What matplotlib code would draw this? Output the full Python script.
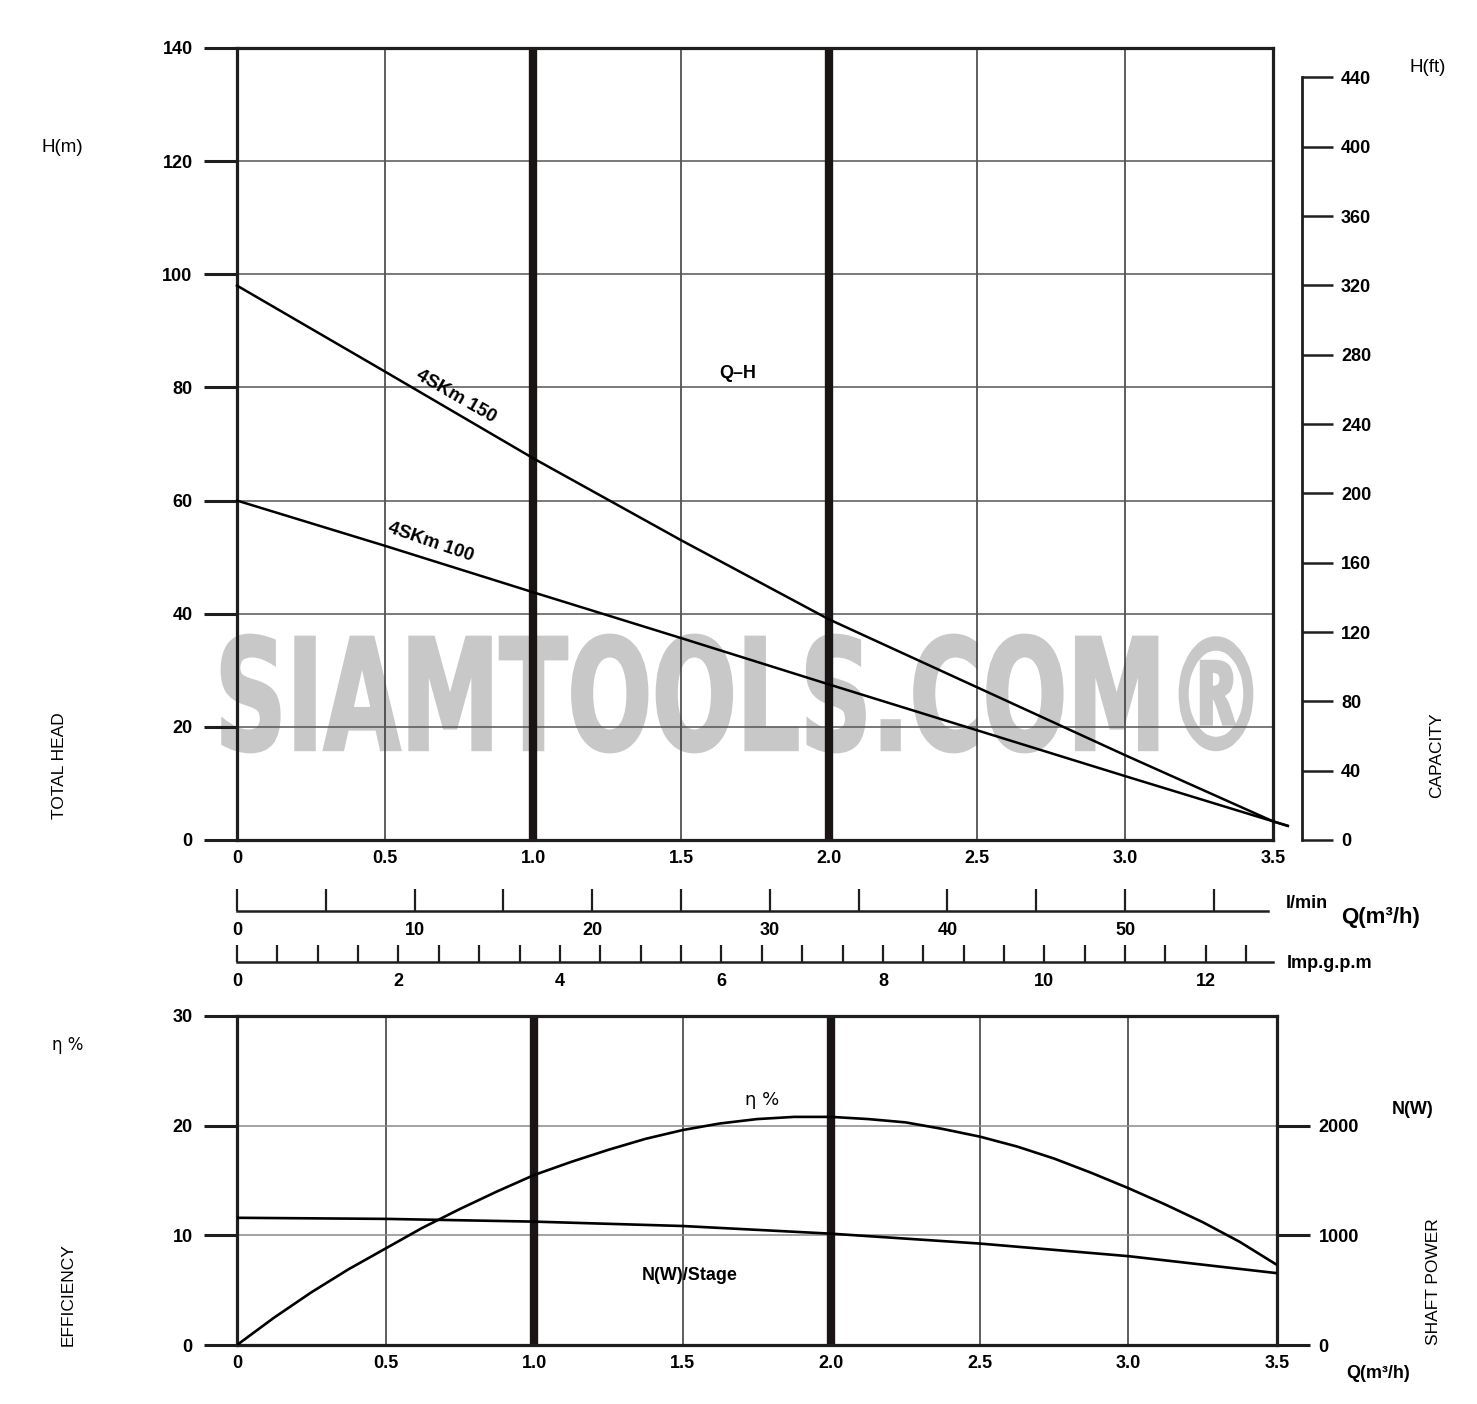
import matplotlib
matplotlib.use('Agg')
import matplotlib.pyplot as plt
import numpy as np
from matplotlib.textpath import TextPath
from matplotlib.patches import PathPatch
from matplotlib.font_manager import FontProperties
from matplotlib.transforms import Affine2D

plt.rcParams['font.family'] = ['Liberation Sans', 'DejaVu Sans']

# ---------------- data ----------------
q_head = [0, 0.5, 1.0, 1.5, 2.0, 2.5, 3.0, 3.5, 3.55]
h_150 = [98, 82.8, 67.5, 53, 39, 27, 15, 3.3, 2.5]
h_100 = [60, 52, 43.8, 35.7, 27.5, 19.4, 11.3, 3.3, 2.5]

q_eta = [0, 0.125, 0.25, 0.375, 0.5, 0.625, 0.75, 0.875, 1.0, 1.125, 1.25, 1.375,
         1.5, 1.625, 1.75, 1.875, 2.0, 2.125, 2.25, 2.375, 2.5, 2.625, 2.75, 2.875,
         3.0, 3.125, 3.25, 3.375, 3.5]
eta = [0, 2.5, 4.8, 6.9, 8.8, 10.7, 12.4, 14.0, 15.5, 16.7, 17.8, 18.8,
       19.6, 20.2, 20.6, 20.8, 20.8, 20.6, 20.3, 19.7, 19.0, 18.1, 17.0, 15.7,
       14.3, 12.8, 11.2, 9.4, 7.3]

q_pow = [0, 0.5, 1.0, 1.5, 2.0, 2.5, 3.0, 3.5]
power_w = [1160, 1150, 1125, 1085, 1015, 925, 810, 655]

q_ticks = [0, 0.5, 1.0, 1.5, 2.0, 2.5, 3.0, 3.5]
q_labels = ['0', '0.5', '1.0', '1.5', '2.0', '2.5', '3.0', '3.5']
h_m_ticks = [0, 20, 40, 60, 80, 100, 120, 140]
h_ft_ticks = [0, 40, 80, 120, 160, 200, 240, 280, 320, 360, 400, 440]
eta_ticks = [0, 10, 20, 30]
pow_ticks = [0, 1000, 2000]
lmin_ticks = list(range(0, 56, 5))
lmin_labels = [str(v) if v % 10 == 0 else '' for v in lmin_ticks]
gpm_ticks = [v * 0.5 for v in range(0, 26)]
gpm_labels = [str(int(v)) if v % 2 == 0 else '' for v in gpm_ticks]
thick_q = [1.0, 2.0]

LMIN_PER_M3H = 1000 / 60.0
GPM_PER_M3H = 1000 / 60.0 / 4.54609
FT_PER_M = 3.28084

# ---------------- figure ----------------
W, H = 1477, 1404
fig = plt.figure(figsize=(W / 100, H / 100), dpi=100)
fig.patch.set_facecolor('white')


def rect(x0, y0, x1, y1):
    return [x0 / W, 1 - y1 / H, (x1 - x0) / W, (y1 - y0) / H]


def ftext(x, y, s, **kw):
    kw.setdefault('ha', 'center')
    kw.setdefault('va', 'center')
    return fig.text(x / W, 1 - y / H, s, **kw)


FRAME = '#1e1e1e'
NUMSIZE = 13
LBL = 13


def style_main(a, grid_h_color):
    a.patch.set_alpha(0)
    for s in a.spines.values():
        s.set_linewidth(2.3)
        s.set_color(FRAME)
    a.set_xticks(q_ticks)
    a.set_xticklabels(q_labels, fontsize=NUMSIZE, fontweight='bold')
    a.tick_params(axis='x', length=0, pad=7)
    a.tick_params(axis='y', direction='out', length=24, width=2.2, color=FRAME,
                  pad=8, labelsize=NUMSIZE)
    for lab in a.get_yticklabels():
        lab.set_fontweight('bold')
    a.xaxis.grid(True, color='#333333', lw=1.1)
    a.yaxis.grid(True, color=grid_h_color, lw=1.1)
    a.set_axisbelow(True)
    for qv in thick_q:
        a.axvline(qv, color='#1a1414', lw=6.0, zorder=1.5)


# ---- top: Q-H ----
ax = fig.add_axes(rect(237, 48, 1273, 840))
ax.set_xlim(0, 3.5)
ax.set_ylim(0, 140)
ax.set_yticks(h_m_ticks)
ax.set_yticklabels([str(v) for v in h_m_ticks])
style_main(ax, '#555555')
ax.plot(q_head, h_150, color='black', lw=1.8, clip_on=False, zorder=3)
ax.plot(q_head, h_100, color='black', lw=1.8, clip_on=False, zorder=3)

# right ft axis
axft = fig.add_axes(rect(1250, 48, 1302, 840))
axft.patch.set_alpha(0)
axft.set_ylim(0, 140 * FT_PER_M * 0.995)
axft.set_xticks([])
for k in ['left', 'top', 'bottom']:
    axft.spines[k].set_visible(False)
axft.spines['right'].set_bounds(0, 440)
axft.spines['right'].set_linewidth(2.0)
axft.spines['right'].set_color(FRAME)
axft.yaxis.set_ticks_position('right')
axft.set_yticks(h_ft_ticks)
axft.set_yticklabels([str(v) for v in h_ft_ticks], fontsize=NUMSIZE, fontweight='bold')
axft.tick_params(axis='y', direction='out', length=22, width=1.8, color=FRAME, pad=6)

# ---- bottom: efficiency & power ----
ax2 = fig.add_axes(rect(237, 1016, 1277, 1345))
ax2.set_xlim(0, 3.5)
ax2.set_ylim(0, 30)
ax2.set_yticks(eta_ticks)
ax2.set_yticklabels([str(v) for v in eta_ticks])
style_main(ax2, '#8a8a8a')
ax2.plot(q_eta, eta, color='black', lw=1.9, zorder=3)

ax3 = ax2.twinx()
ax3.set_ylim(0, 3000)
ax3.set_yticks(pow_ticks)
ax3.set_yticklabels([str(v) for v in pow_ticks], fontsize=NUMSIZE, fontweight='bold')
ax3.tick_params(axis='y', direction='out', length=24, width=2.2, color=FRAME, pad=6)
for s in ax3.spines.values():
    s.set_visible(False)
ax3.plot(q_pow, power_w, color='black', lw=1.9, zorder=3)

# ---- middle flow scales ----
axl = fig.add_axes(rect(237, 880, 1273, 911))
axl.patch.set_alpha(0)
axl.set_xlim(0, 3.5)
axl.set_yticks([])
for k in ['left', 'top', 'right']:
    axl.spines[k].set_visible(False)
axl.spines['bottom'].set_bounds(0, 3.483)
axl.spines['bottom'].set_linewidth(1.8)
axl.spines['bottom'].set_color(FRAME)
axl.set_xticks([v / LMIN_PER_M3H for v in lmin_ticks])
axl.set_xticklabels(lmin_labels, fontsize=NUMSIZE, fontweight='bold')
axl.tick_params(axis='x', direction='in', length=16, width=1.6, color=FRAME, pad=8)

axg = fig.add_axes(rect(237, 930, 1273, 962))
axg.patch.set_alpha(0)
axg.set_xlim(0, 3.5)
axg.set_yticks([])
for k in ['left', 'top', 'right']:
    axg.spines[k].set_visible(False)
axg.spines['bottom'].set_bounds(0, 3.5)
axg.spines['bottom'].set_linewidth(1.8)
axg.spines['bottom'].set_color(FRAME)
axg.set_xticks([v / GPM_PER_M3H for v in gpm_ticks])
axg.set_xticklabels(gpm_labels, fontsize=NUMSIZE, fontweight='bold')
axg.tick_params(axis='x', direction='in', length=12, width=1.6, color=FRAME, pad=8)

# ---- texts ----
ftext(62, 148, 'H(m)', fontsize=LBL + 0.5)
ftext(60, 766, 'TOTAL HEAD', fontsize=12.5, rotation=90)
ftext(68, 1045, 'η %', fontsize=12, family=['DejaVu Sans'])
ftext(68, 1295, 'EFFICIENCY', fontsize=12.5, rotation=90)
ftext(1428, 68, 'H(ft)', fontsize=LBL + 0.5)
ftext(1437, 755, 'CAPACITY', fontsize=12.5, rotation=90)
ftext(1413, 1110, 'N(W)', fontsize=LBL, fontweight='bold')
ftext(1434, 1282, 'SHAFT POWER', fontsize=12.5, rotation=90)
ftext(1378, 1373, 'Q(m³/h)', fontsize=LBL, fontweight='bold')
ftext(1381, 918, 'Q(m³/h)', fontsize=16, fontweight='bold')
ftext(1307, 903, 'l/min', fontsize=LBL, fontweight='bold')
ftext(1330, 964, 'Imp.g.p.m', fontsize=LBL, fontweight='bold')

ftext(738, 374, 'Q–H', fontsize=LBL, fontweight='bold')
ftext(456, 396, '4SKm 150', fontsize=13.5, fontweight='bold', rotation=-30)
ftext(431, 542, '4SKm 100', fontsize=13.5, fontweight='bold', rotation=-19)
ftext(762, 1100, 'η %', fontsize=13, family=['DejaVu Sans'])
ftext(690, 1275, 'N(W)/Stage', fontsize=LBL, fontweight='bold')

# ---- watermark ----
fp = FontProperties(family='DejaVu Sans', weight='bold')
tp = TextPath((0, 0), 'SIAMTOOLS.COM®', size=100, prop=fp)
bb = tp.get_extents()
tr = (Affine2D().translate(-bb.x0, -bb.y0)
      .scale(1030 / bb.width, 117 / bb.height)
      .translate(222, H - 752))
wm = PathPatch(tp, transform=tr, facecolor='#c8c8c8', edgecolor='#c8c8c8',
               lw=2.0, zorder=-5)
fig.add_artist(wm)

fig.savefig('out.png', dpi=100, facecolor='white')
